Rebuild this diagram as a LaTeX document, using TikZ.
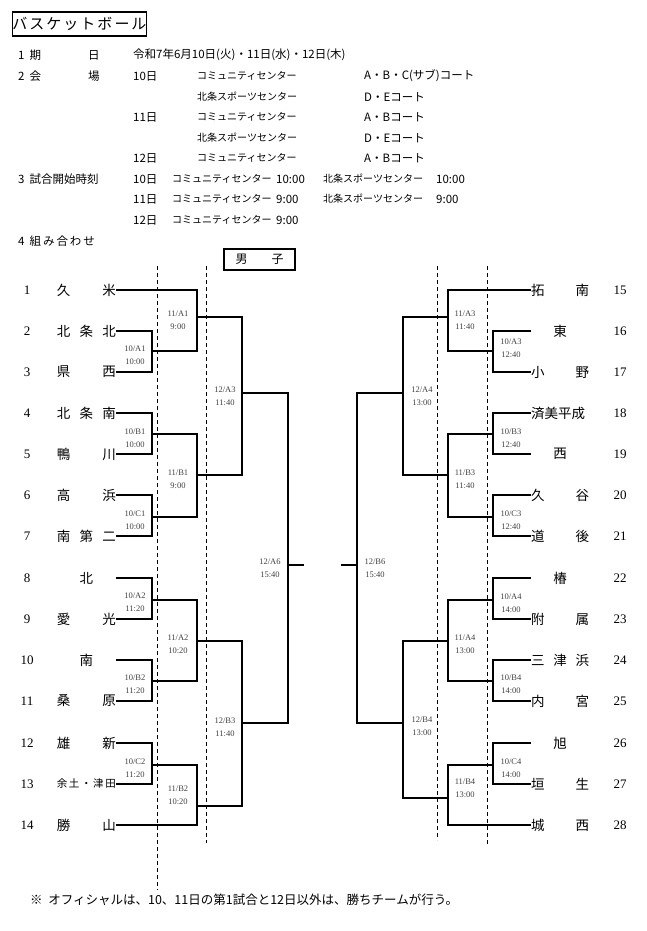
\documentclass[tikz,border=0pt]{standalone}
\usepackage{fontspec}
\setmainfont{Liberation Serif}
\newfontfamily\jp{Noto Sans CJK JP}
\begin{document}
\begin{tikzpicture}[x=1pt,y=-1pt,
  br/.style={line width=1.6pt},
  dsh/.style={dashed,line width=0.8pt,dash pattern=on 4pt off 3pt},
  hd/.style={anchor=west,inner sep=0pt,font=\jp\fontsize{11.5}{12}\selectfont},
  hs/.style={anchor=west,inner sep=0pt,font=\jp\fontsize{10}{12}\selectfont},
  tm/.style={inner sep=0pt,font=\jp\fontsize{13.5}{14}\selectfont},
  num/.style={inner sep=0pt,font=\fontsize{13}{14}\selectfont},
  lb/.style={inner sep=0pt,align=center,anchor=north,font=\fontsize{8.5}{13}\selectfont,text=black!75}]
\useasboundingbox (0,0) rectangle (647,931);
% title
\node[draw,line width=1.2pt,minimum width=131pt,minimum height=24pt,inner sep=0pt,font=\jp\fontsize{15}{16}\selectfont] (title) at (79.5,24) {バ\hspace{2pt}ス\hspace{2pt}ケ\hspace{2pt}ッ\hspace{2pt}ト\hspace{2pt}ボ\hspace{2pt}ー\hspace{2pt}ル};
% header
\node[hd] (h1) at (18,55) {1\ \ 期};
\node[hd] (h1b) at (88,55) {日};
\node[hd] (h1c) at (133,55) {令和7年6月10日(火)・11日(水)・12日(木)};
\node[hd] (h2) at (18,76) {2\ \ 会};
\node[hd] (h2b) at (88,76) {場};
\node[hd] (v1) at (133,76) {10日};
\node[hs] (v1a) at (197,76) {コミュニティセンター};
\node[hd] (v1b) at (364,76) {A・B・C(サブ)コート};
\node[hs] (v2a) at (197,97) {北条スポーツセンター};
\node[hd] (v2b) at (364,97) {D・Eコート};
\node[hd] (v3) at (133,117) {11日};
\node[hs] (v3a) at (197,117) {コミュニティセンター};
\node[hd] (v3b) at (364,117) {A・Bコート};
\node[hs] (v4a) at (197,138) {北条スポーツセンター};
\node[hd] (v4b) at (364,138) {D・Eコート};
\node[hd] (v5) at (133,158) {12日};
\node[hs] (v5a) at (197,158) {コミュニティセンター};
\node[hd] (v5b) at (364,158) {A・Bコート};
\node[hd] (h3) at (18,179) {3\ \ 試合開始時刻};
\node[hd] (s1) at (133,179) {10日};
\node[hs] (s1a) at (172,179) {コミュニティセンター};
\node[hd] (s1t) at (276,179) {10:00};
\node[hs] (s1b) at (323,179) {北条スポーツセンター};
\node[hd] (s1u) at (436,179) {10:00};
\node[hd] (s2) at (133,199) {11日};
\node[hs] (s2a) at (172,199) {コミュニティセンター};
\node[hd] (s2t) at (276,199) {9:00};
\node[hs] (s2b) at (323,199) {北条スポーツセンター};
\node[hd] (s2u) at (436,199) {9:00};
\node[hd] (s3) at (133,220) {12日};
\node[hs] (s3a) at (172,220) {コミュニティセンター};
\node[hd] (s3t) at (276,220) {9:00};
\node[hd] (h4) at (18,241) {4\ \ 組\,み\,合\,わ\,せ};
\node[draw,line width=1.2pt,minimum width=71pt,minimum height=21pt,inner sep=0pt,font=\jp\fontsize{12}{13}\selectfont] (boys) at (259.5,259.5) {男\hspace{2em}子};
% dashed
\draw[dsh] (157,266) -- (157,890);
\draw[dsh] (206,266) -- (206,843);
\draw[dsh] (437,266) -- (437,840);
\draw[dsh] (487,266) -- (487,846);
% left teams
\foreach \n/\y/\t in {1/290/{久\hfill 米},2/331/{北\hfill 条\hfill 北},3/372/{県\hfill 西},4/413/{北\hfill 条\hfill 南},5/454/{鴨\hfill 川},6/495/{高\hfill 浜},7/536/{南\hfill 第\hfill 二},8/578/{\hfill 北\hfill},9/619/{愛\hfill 光},10/660/{\hfill 南\hfill},11/701/{桑\hfill 原},12/743/{雄\hfill 新},13/784/{\fontsize{10.5}{11}\selectfont 余\hfill 土\hfill ・\hfill 津\hfill 田},14/825/{勝\hfill 山}}{
  \node[tm,anchor=east] (t\n) at (116,\y) {\makebox[59pt][s]{\t}};
  \node[num] (n\n) at (27,\y) {\n};
}
% right teams
\foreach \n/\y/\t in {15/290/{拓\hfill 南},16/331/{\hfill 東\hfill},17/372/{小\hfill 野},18/413/{済美平成},19/454/{\hfill 西\hfill},20/495/{久\hfill 谷},21/536/{道\hfill 後},22/578/{\hfill 椿\hfill},23/619/{附\hfill 属},24/660/{三\hfill 津\hfill 浜},25/701/{内\hfill 宮},26/743/{\hfill 旭\hfill},27/784/{垣\hfill 生},28/825/{城\hfill 西}}{
  \node[tm,anchor=west] (t\n) at (531,\y) {\makebox[58pt][s]{\t}};
  \node[num] (n\n) at (620,\y) {\n};
}
% left coordinates
\coordinate (a1) at (152,351); \coordinate (b1) at (152,434); \coordinate (c1) at (152,517);
\coordinate (a2) at (152,600); \coordinate (b2) at (152,681); \coordinate (c2) at (152,765);
\coordinate (A1) at (197,317); \coordinate (B1) at (197,475); \coordinate (A2) at (197,641); \coordinate (B2) at (197,806);
\coordinate (A3) at (242,393); \coordinate (B3) at (242,723);
\coordinate (A6) at (288,565); \coordinate (L) at (304,565);
\draw[br] (t2.east) -| (a1) |- (t3.east);
\draw[br] (t4.east) -| (b1) |- (t5.east);
\draw[br] (t6.east) -| (c1) |- (t7.east);
\draw[br] (t8.east) -| (a2) |- (t9.east);
\draw[br] (t10.east) -| (b2) |- (t11.east);
\draw[br] (t12.east) -| (c2) |- (t13.east);
\draw[br] (t1.east) -| (A1) |- (a1);
\draw[br] (b1) -| (B1) |- (c1);
\draw[br] (a2) -| (A2) |- (b2);
\draw[br] (c2) -| (B2) |- (t14.east);
\draw[br] (A1) -| (A3) |- (B1);
\draw[br] (A2) -| (B3) |- (B2);
\draw[br] (A3) -| (A6) |- (B3);
\draw[br] (A6) -- (L);
% right coordinates
\coordinate (ra3) at (493,351); \coordinate (rb3) at (493,434); \coordinate (rc3) at (493,517);
\coordinate (ra4) at (493,600); \coordinate (rb4) at (493,681); \coordinate (rc4) at (493,765);
\coordinate (RA3) at (448,317); \coordinate (RB3) at (448,475); \coordinate (RA4) at (448,641); \coordinate (RB4) at (448,798);
\coordinate (SA4) at (403,393); \coordinate (SB4) at (403,723);
\coordinate (B6) at (357,565); \coordinate (R) at (341,565);
\draw[br] (t16.west) -| (ra3) |- (t17.west);
\draw[br] (t18.west) -| (rb3) |- (t19.west);
\draw[br] (t20.west) -| (rc3) |- (t21.west);
\draw[br] (t22.west) -| (ra4) |- (t23.west);
\draw[br] (t24.west) -| (rb4) |- (t25.west);
\draw[br] (t26.west) -| (rc4) |- (t27.west);
\draw[br] (t15.west) -| (RA3) |- (ra3);
\draw[br] (rb3) -| (RB3) |- (rc3);
\draw[br] (ra4) -| (RA4) |- (rb4);
\draw[br] (rc4) -| (RB4) |- (t28.west);
\draw[br] (RA3) -| (SA4) |- (RB3);
\draw[br] (RA4) -| (SB4) |- (RB4);
\draw[br] (SA4) -| (B6) |- (SB4);
\draw[br] (B6) -- (R);
% labels
\foreach \nm/\x/\y/\t in {l1/135/352/{10/A1\\10:00},l2/135/435/{10/B1\\10:00},l3/135/517/{10/C1\\10:00},l4/135/599/{10/A2\\11:20},l5/135/681/{10/B2\\11:20},l6/135/765/{10/C2\\11:20},
 l7/178/317/{11/A1\\9:00},l8/178/476/{11/B1\\9:00},l9/178/641/{11/A2\\10:20},l10/178/792/{11/B2\\10:20},
 l11/225/393/{12/A3\\11:40},l12/225/724/{12/B3\\11:40},l13/270/565/{12/A6\\15:40},
 r1/511/345/{10/A3\\12:40},r2/511/435/{10/B3\\12:40},r3/511/517/{10/C3\\12:40},r4/511/600/{10/A4\\14:00},r5/511/681/{10/B4\\14:00},r6/511/765/{10/C4\\14:00},
 r7/465/317/{11/A3\\11:40},r8/465/476/{11/B3\\11:40},r9/465/641/{11/A4\\13:00},r10/465/785/{11/B4\\13:00},
 r11/422/393/{12/A4\\13:00},r12/422/723/{12/B4\\13:00},r13/375/565/{12/B6\\15:40}}{
  \node[lb] (\nm) at (\x,\y-6) {\t};
}
\node[hd,font=\jp\fontsize{12.5}{13}\selectfont] (foot) at (30,900) {※\ \ オフィシャルは、10、11日の第1試合と12日以外は、勝ちチームが行う。};
\end{tikzpicture}
\end{document}
